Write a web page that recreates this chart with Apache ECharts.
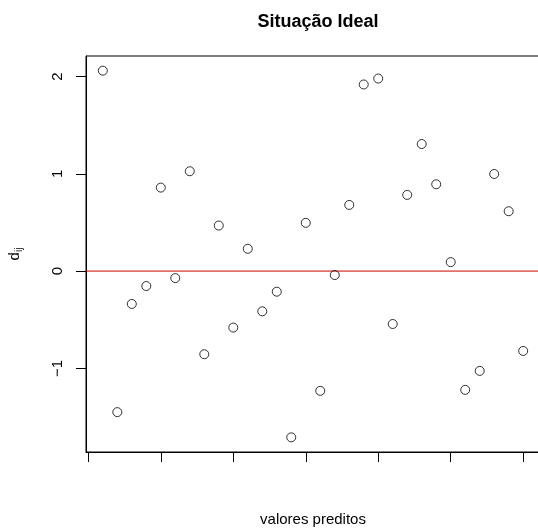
<!DOCTYPE html>
<html>
<head>
<meta charset="utf-8">
<script src="https://cdn.jsdelivr.net/npm/echarts@6/dist/echarts.min.js"></script>
<style>
html,body{margin:0;padding:0;background:#fff;}
#chart{width:538px;height:528px;}
</style>
</head>
<body>
<div id="chart"></div>
<script>
const titleText = 'Situação Ideal';
const xName = 'valores preditos';
const xValues = [1,2,3,4,5,6,7,8,9,10,11,12,13,14,15,16,17,18,19,20,21,22,23,24,25,26,27,28,29,30];
const dValues = [2.060, -1.450, -0.338, -0.154, 0.858, -0.072, 1.026, -0.855, 0.468, -0.581,
                 0.229, -0.414, -0.212, -1.709, 0.496, -1.231, -0.041, 0.680, 1.918, 1.979,
                 -0.544, 0.783, 1.306, 0.892, 0.092, -1.221, -1.026, 0.998, 0.615, -0.821];
const xTicks = [0,5,10,15,20,25,30];
const yTicks = [-1,0,1,2];
const refLineValue = 0;

// R-style axis range: data range extended by 4% on each side
function rRange(arr){
  const lo = Math.min(...arr), hi = Math.max(...arr);
  const pad = (hi - lo) * 0.04;
  return [lo - pad, hi + pad];
}
const xr = rRange(xValues);
const yr = rRange(dValues);

const font = 'Liberation Sans, Arial, Helvetica, sans-serif';
const chart = echarts.init(document.getElementById('chart'), null, {renderer:'canvas'});
chart.setOption({
  animation:false,
  backgroundColor:'#fff',
  textStyle:{fontFamily:font},
  title:{
    text:titleText, left:313, textAlign:'center', top:8,
    textStyle:{fontFamily:font, fontSize:18, fontWeight:'bold', color:'#000'}
  },
  grid:{left:86, top:56, width:454, height:396, outerBoundsMode:'none', containLabel:false,
        show:true, borderColor:'#000', borderWidth:1, backgroundColor:'transparent'},
  xAxis:{
    type:'value', min:xr[0], max:xr[1],
    name:xName, nameLocation:'middle', nameGap:60,
    nameTextStyle:{fontFamily:font, fontSize:15, color:'#000'},
    splitLine:{show:false},
    axisLine:{show:true, onZero:false, lineStyle:{color:'#000', width:1}},
    axisTick:{show:true, length:10, customValues:xTicks, lineStyle:{color:'#000', width:1}},
    axisLabel:{show:false}
  },
  yAxis:{
    type:'value', min:yr[0], max:yr[1],
    name:'{d|d}{s|ij}', nameLocation:'middle', nameGap:62, nameRotate:90,
    nameTextStyle:{
      rich:{
        d:{fontFamily:font, fontSize:15, color:'#000'},
        s:{fontFamily:font, fontSize:10, color:'#000', verticalAlign:'bottom', padding:[8,0,0,0]}
      }
    },
    splitLine:{show:false},
    axisLine:{show:true, onZero:false, lineStyle:{color:'#000', width:1}},
    axisTick:{show:true, length:10, customValues:yTicks, lineStyle:{color:'#000', width:1}},
    axisLabel:{show:true, customValues:yTicks, rotate:90, margin:21, fontFamily:font, fontSize:15, color:'#000',
      formatter:v=>String(v).replace('-', '\u2212')}
  },
  series:[{
    type:'scatter',
    data:xValues.map((x,i)=>[x, dValues[i]]),
    symbol:'circle', symbolSize:9,
    itemStyle:{color:'rgba(255,255,255,0)', borderColor:'#000', borderWidth:1},
    z:3
  },{
    type:'line',
    name:'ref',
    data:[[xr[0], refLineValue],[xr[1], refLineValue]],
    showSymbol:false, symbol:'none', silent:true,
    lineStyle:{color:'#d00000', width:1, opacity:1},
    itemStyle:{color:'#d00000'},
    z:2
  }]
});
</script>
</body>
</html>
